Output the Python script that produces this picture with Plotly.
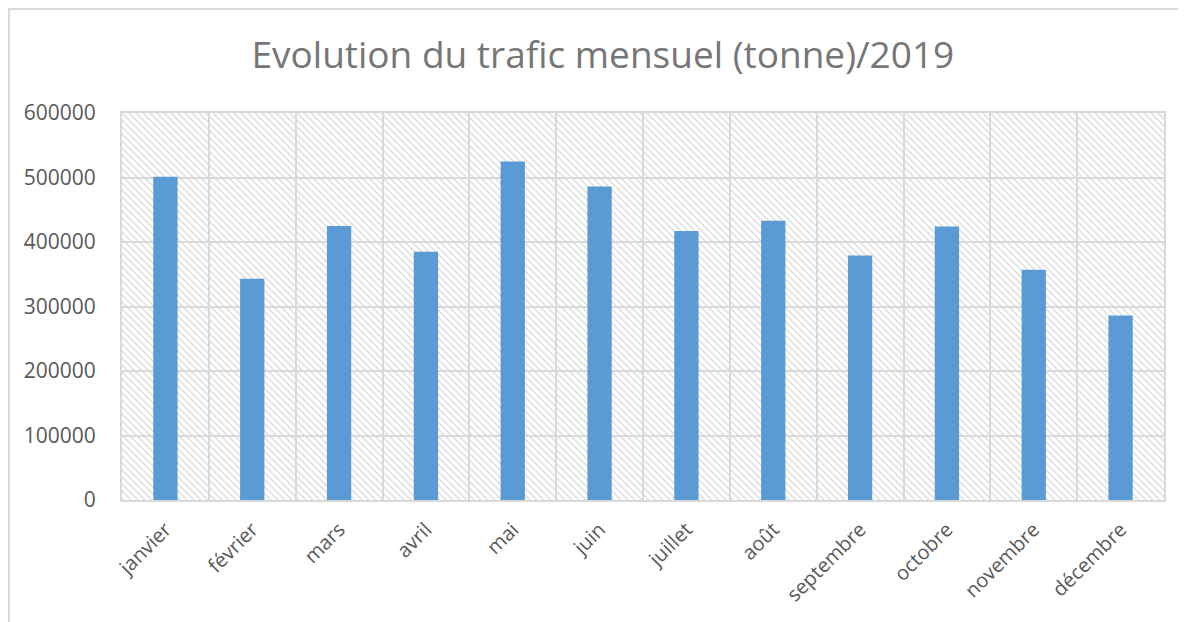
import base64

import plotly.graph_objects as go

MOIS = ["janvier", "février", "mars", "avril", "mai", "juin", "juillet", "août",
        "septembre", "octobre", "novembre", "décembre"]
TRAFIC = [501000, 343000, 425000, 385000, 525000, 486000, 417000, 433000,
          379000, 424000, 357000, 286000]
Y_TICKS = [0, 100000, 200000, 300000, 400000, 500000, 600000]

TITRE = "Evolution du trafic mensuel (tonne)/2019"

_FONT = {"family": '"Open Sans", "Liberation Sans", sans-serif', "color": "#595959"}
_GRID = "#D9D9D9"

# Excel-style diagonal hatch behind the bars, drawn as an svg image over the plot area.
_HATCH = """<svg xmlns='http://www.w3.org/2000/svg' width='1042' height='387'>
<defs><pattern id='h' patternUnits='userSpaceOnUse' width='7' height='7'>
<path d='M-1,-1 L8,8 M-1,6 L1,8 M6,-1 L8,1' stroke='#DCDCDC' stroke-width='1.4'/>
</pattern></defs>
<rect width='100%' height='100%' fill='white'/>
<rect width='100%' height='100%' fill='url(#h)'/>
</svg>"""
_HATCH_URI = "data:image/svg+xml;base64," + base64.b64encode(_HATCH.encode()).decode()

fig = go.Figure(go.Bar(x=MOIS, y=TRAFIC, marker={"color": "#5B9BD5", "line": {"width": 0}}))

# the page body has an 8px margin, so the figure is sized 8px short of the window
fig.update_layout(
    width=1178, height=614,
    margin={"l": 114, "r": 22, "t": 105, "b": 122},
    paper_bgcolor="white", plot_bgcolor="rgba(0,0,0,0)",
    font=_FONT, showlegend=False, bargap=0.72,
    title={"text": TITRE, "x": 0.505, "xanchor": "center", "y": 0.923, "yanchor": "middle",
           "font": {"size": 37, "color": "#767676"}},
    xaxis={"type": "category", "tickangle": -45, "tickson": "boundaries",
           "showgrid": True, "gridcolor": _GRID, "gridwidth": 2,
           "showline": True, "linecolor": _GRID, "linewidth": 2, "mirror": True,
           "ticks": "", "ticklabelstandoff": 8, "tickfont": {"size": 20}},
    yaxis={"range": [0, 600000], "tickvals": Y_TICKS, "ticktext": [str(v) for v in Y_TICKS],
           "showgrid": True, "gridcolor": _GRID, "gridwidth": 2,
           "showline": True, "linecolor": _GRID, "linewidth": 2, "mirror": True,
           "zeroline": False, "ticks": "", "ticklabelstandoff": 20,
           "tickfont": {"size": 21}},
    images=[{"source": _HATCH_URI, "xref": "paper", "yref": "paper", "x": 0, "y": 1,
             "sizex": 1, "sizey": 1, "sizing": "stretch", "layer": "below"}],
    shapes=[{"type": "rect", "xref": "paper", "yref": "paper",
             "x0": -0.1085, "x1": 1.2, "y0": -0.5, "y1": 1.269,
             "line": {"color": _GRID, "width": 2}, "layer": "below"}],
)

fig.write_html("out.html")
